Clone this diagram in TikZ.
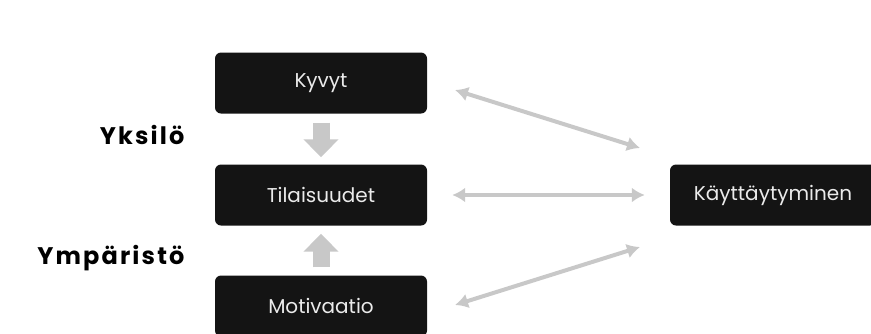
\documentclass[tikz,border=0pt]{standalone}
\usepackage{fontspec}
\setmainfont{Poppins}
\usepackage{tikz}
\usetikzlibrary {arrows.meta}

\definecolor{boxfill}{HTML}{141414}
\definecolor{arrowgray}{HTML}{C8C8C8}

\begin{document}
\begin{tikzpicture}[x=1pt, y=-1pt,
    factorbox/.style={fill=boxfill, rounded corners=6pt, minimum width=212pt,
      minimum height=61pt, text=white!92!black, font=\fontsize{20}{24}\selectfont},
    sidelabel/.style={anchor=east,
      font=\fontsize{24}{28}\selectfont\bfseries\addfontfeatures{LetterSpace=9}},
    fatarrow/.style={draw=arrowgray, line width=17pt,
      -{Triangle[width=34pt, length=18pt]}},
    twoway/.style={draw=arrowgray, line width=4pt,
      {Latex[width=15pt, length=13pt]}-{Latex[width=15pt, length=13pt]}}]
      \useasboundingbox (0,0) rectangle (871,333);

      % Define the boxes
      \node[factorbox] (kyvyt) at (321,83) {Kyvyt};
      \node[factorbox] (tilaisuudet) at (321,195) {Tilaisuudet};
      \node[factorbox] (motivaatio) at (321,306) {Motivaatio};
      \node[factorbox, minimum width=206pt] (kayttaytyminen) at (773,195) {Käyttäytyminen};

      % Label the sides
      \node[sidelabel] (yksilo) at (188,135) {Yksilö};
      \node[sidelabel] (ymparisto) at (188,258) {Ympäristö};

      % Ends of the slanted arrows
      \coordinate (kyvytend) at (455,90);
      \coordinate (kaytttop) at (640,148);
      \coordinate (motivend) at (455,305);
      \coordinate (kayttbot) at (640,247);

      % Draw the arrows
      \draw[fatarrow, shorten <=9pt, shorten >=7pt] (kyvyt) -- (tilaisuudet);
      \draw[fatarrow, shorten <=8pt, shorten >=8pt] (motivaatio) -- (tilaisuudet);
      \draw[twoway] (kyvytend) -- (kaytttop);
      \draw[twoway, shorten <=25pt, shorten >=25pt] (tilaisuudet.east) -- (kayttaytyminen.west);
      \draw[twoway] (motivend) -- (kayttbot);
    \end{tikzpicture}
\end{document}
